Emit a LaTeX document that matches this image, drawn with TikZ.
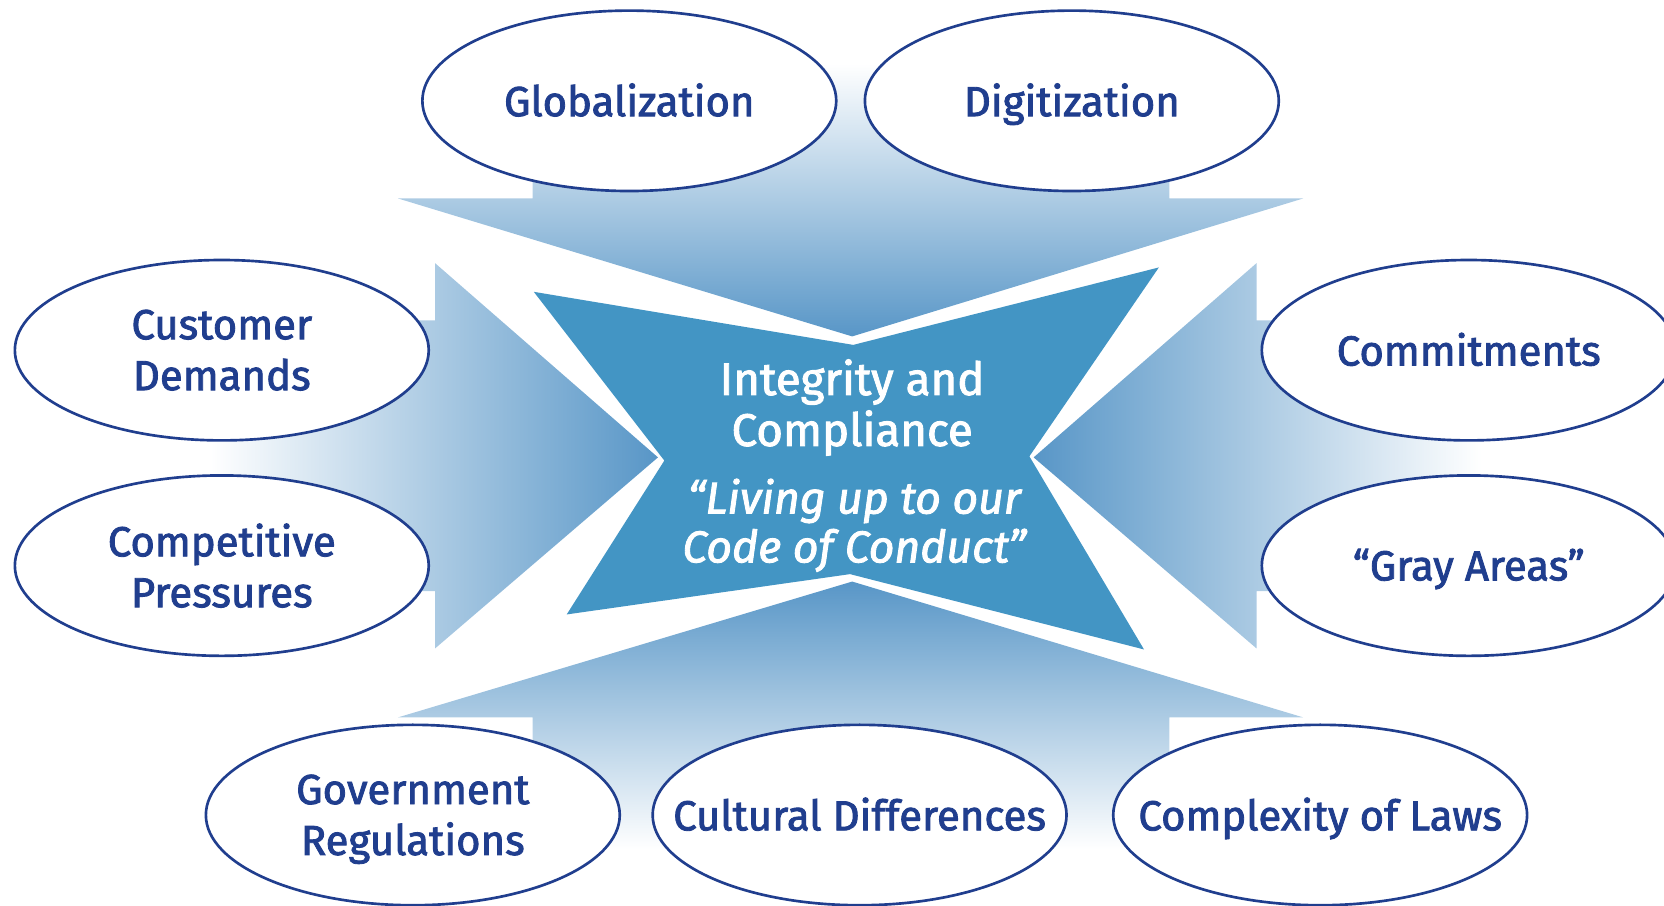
\documentclass[tikz,border=0pt]{standalone}
\usepackage{fontspec}
\setmainfont{Fira Sans}[FakeBold=2]
\usetikzlibrary{shapes.geometric}
\definecolor{navy}{RGB}{32,62,142}
\definecolor{starblue}{RGB}{67,149,196}
\definecolor{arrowtip}{RGB}{88,150,199}
\definecolor{arrowmid}{RGB}{200,217,234}
\tikzset{
  factor/.style={ellipse, draw=navy, line width=2.5pt, fill=white,
    minimum width=390pt, minimum height=170pt, inner sep=0pt},
  factortext/.style={text=navy, align=center, inner sep=0pt,
    font=\fontsize{39.5}{48}\selectfont},
  onelinetext/.style={factortext, text depth=0pt},
  centertext/.style={text=white, align=center, inner sep=0pt,
    font=\fontsize{43}{48}\selectfont}
}
\begin{document}
\begin{tikzpicture}[x=1pt,y=-1pt]
\useasboundingbox (0,0) rectangle (1568,853);
\clip (0,0) rectangle (1568,853);
% arrows
\path[top color=white, middle color=arrowmid, bottom color=arrowtip]
  (502,60) -- (1102,60) -- (1102,187) -- (1228,187) -- (803,317) -- (375,187) -- (502,187) -- cycle;
\path[top color=arrowtip, middle color=arrowmid, bottom color=white]
  (502,800) -- (1102,800) -- (1102,676) -- (1228,676) -- (803,548) -- (375,676) -- (502,676) -- cycle;
\path[left color=white, middle color=arrowmid, right color=arrowtip]
  (198,302) -- (410,302) -- (410,248) -- (620,431) -- (410,611) -- (410,557) -- (198,557) -- cycle;
\path[left color=arrowtip, middle color=arrowmid, right color=white]
  (1396,302) -- (1184,302) -- (1184,248) -- (974,431) -- (1184,611) -- (1184,557) -- (1396,557) -- cycle;
% star
\fill[starblue] (503,275) -- (804,325) -- (1092,252) -- (970,430) -- (1078,612) -- (801,541) -- (534,579) -- (626,434) -- cycle;
% factor ellipses
\node[factor] (glob) at (593,95) {};
\node[factor] (digi) at (1010,95) {};
\node[factor] (cust) at (209,330) {};
\node[factor] (comp) at (209,533) {};
\node[factor] (commit) at (1384,330) {};
\node[factor] (gray) at (1384,533) {};
\node[factor] (gov) at (389,768) {};
\node[factor] (cult) at (810,768) {};
\node[factor] (laws) at (1244,768) {};
% factor texts
\node[onelinetext] (globt) at ([yshift=1pt]glob.center) {Globalization};
\node[onelinetext] (digit) at ([yshift=1pt]digi.center) {Digitization};
\node[factortext] (custt) at (cust.center) {Customer\\Demands};
\node[factortext] (compt) at (comp.center) {Competitive\\Pressures};
\node[onelinetext] (committ) at ([yshift=1pt]commit.center) {Commitments};
\node[onelinetext] (grayt) at ([yshift=1pt]gray.center) {“Gray Areas”};
\node[factortext] (govt) at ([yshift=-4pt]gov.center) {Government\\Regulations};
\node[onelinetext] (cultt) at ([yshift=1pt]cult.center) {Cultural Differences};
\node[onelinetext] (lawst) at ([yshift=1pt]laws.center) {Complexity of Laws};
% centre
\node[centertext] (ic) at (803,384) {Integrity and\\Compliance};
\node[centertext, font=\fontsize{42}{46}\selectfont\itshape] (code) at (805,495) {“Living up to our\\Code of Conduct”};
\end{tikzpicture}
\end{document}
